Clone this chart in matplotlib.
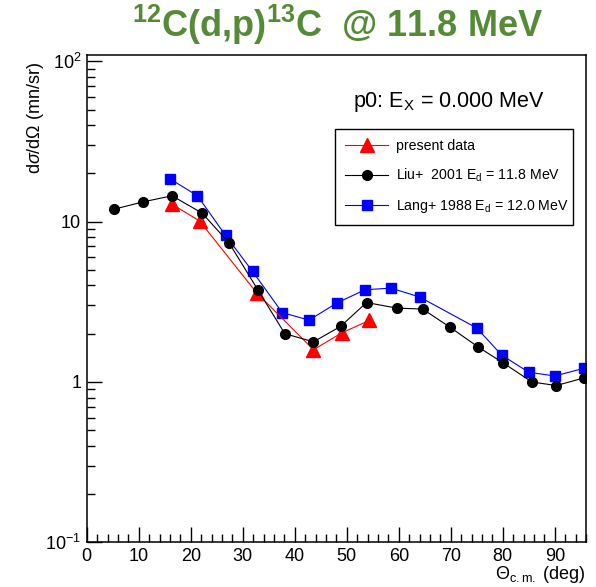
import numpy as np
import matplotlib
matplotlib.use("Agg")
import matplotlib.pyplot as plt
from matplotlib.ticker import FixedLocator, FixedFormatter, LogLocator, NullFormatter, MultipleLocator

# 字体设置（类似 ROOT 的 Helvetica）
plt.rcParams['font.family'] = ['Liberation Sans', 'DejaVu Sans']
plt.rcParams['mathtext.fontset'] = 'custom'
plt.rcParams['mathtext.rm'] = 'Liberation Sans'
plt.rcParams['mathtext.it'] = 'Liberation Sans:italic'
plt.rcParams['mathtext.bf'] = 'Liberation Sans:bold'

# 数据
theta_present = [16.4, 21.7, 32.7, 43.6, 49.0, 54.3]
xs_present = [12.85, 10.1, 3.59, 1.59, 2.02, 2.42]

theta_liu = [5.3, 10.9, 16.4, 22.2, 27.4, 32.9, 38.1, 43.6, 48.8, 53.8,
             59.6, 64.6, 69.9, 75.3, 80.0, 85.6, 90.3, 95.6]
xs_liu = [11.97, 13.3, 14.5, 11.3, 7.35, 3.76, 2.0, 1.78, 2.22, 3.13,
          2.89, 2.85, 2.19, 1.65, 1.32, 1.0, 0.95, 1.06]

theta_lang = [16.0, 21.3, 26.7, 31.9, 37.6, 42.75, 48.1, 53.5, 58.5, 64.0,
              75.0, 79.8, 85.0, 90.0, 95.7]
xs_lang = [18.5, 14.5, 8.2, 4.89, 2.71, 2.43, 3.11, 3.76, 3.85, 3.39,
           2.17, 1.47, 1.15, 1.09, 1.22]

y_ticks = [0.1, 1, 10, 100]
y_tick_labels = [r'$10^{-1}$', '1', '10', r'$10^{2}$']
x_ticks = [0, 10, 20, 30, 40, 50, 60, 70, 80, 90]

W, H = 596, 587
fig = plt.figure(figsize=(W / 100, H / 100), dpi=100)
ax = fig.add_axes([86.7 / W, 1 - 542.3 / H, (586 - 86.7) / W, (542.3 - 54.7) / H])

ax.plot(theta_present, xs_present, color='#ff0000', lw=0.8, marker='^', ms=10,
        label='present data', zorder=3)
ax.plot(theta_liu, xs_liu, color='black', lw=0.8, marker='o', ms=7,
        label=r'Liu+  2001 E$_\mathregular{d}$ = 11.8 MeV', zorder=4)
ax.plot(theta_lang, xs_lang, color='#0000ff', lw=0.8, marker='s', ms=7,
        label=r'Lang+ 1988 E$_\mathregular{d}$ = 12.0 MeV', zorder=2)

ax.set_yscale('log')
ax.set_xlim(0, 96)
ax.set_ylim(0.1, 110)

ax.yaxis.set_major_locator(FixedLocator(y_ticks))
ax.yaxis.set_major_formatter(FixedFormatter(y_tick_labels))
ax.yaxis.set_minor_locator(LogLocator(base=10, subs=np.arange(2, 10)))
ax.yaxis.set_minor_formatter(NullFormatter())
ax.xaxis.set_major_locator(FixedLocator(x_ticks))
ax.xaxis.set_minor_locator(MultipleLocator(2))

ax.tick_params(which='major', direction='in', length=11, width=1, labelsize=13, pad=4)
ax.tick_params(which='minor', direction='in', length=5.5, width=1)
ax.tick_params(top=False, right=False, which='both')
for s in ax.spines.values():
    s.set_linewidth(1.1)

leg = ax.legend(loc='upper left', bbox_to_anchor=(0.497, 0.659, 0.477, 0.189),
                mode='expand', borderaxespad=0, fontsize=10.2, numpoints=1,
                handlelength=3.0, handletextpad=0.6, labelspacing=0.95,
                borderpad=0.75, fancybox=False, framealpha=1, edgecolor='black')
leg.get_frame().set_linewidth(1.0)

fig.text(353 / W, 1 - 106.7 / H, r'p0: E$_\mathregular{X}$ = 0.000 MeV',
         fontsize=15.5, va='baseline', ha='left')

fig.text(337.5 / W, 1 - 36.7 / H, r'$^{\mathbf{12}}$C(d,p)$^{\mathbf{13}}$C  @ 11.8 MeV',
         fontsize=26, fontweight='bold', color='#558b37', va='baseline', ha='center')

fig.text(36 / W, 1 - 62 / H, r'd$\sigma$/d$\Omega$ (mn/sr)', rotation=90,
         fontsize=13, va='top', ha='center')
fig.text(586 / W, 1 - 579 / H, r'$\Theta_\mathregular{c.m.}$ (deg)',
         fontsize=13, va='baseline', ha='right')

fig.savefig('out.png', dpi=100)
